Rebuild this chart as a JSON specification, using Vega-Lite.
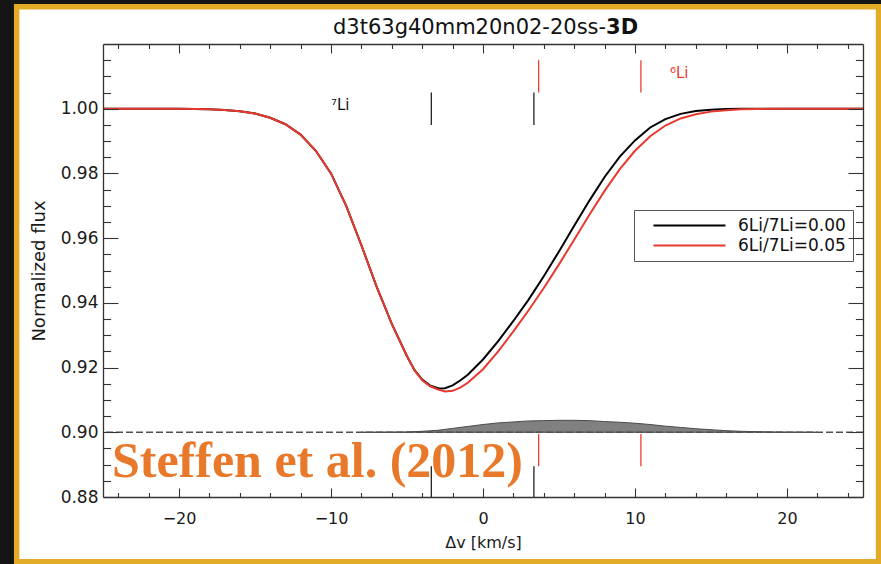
{
  "$schema": "https://vega.github.io/schema/vega-lite/v6.json",
  "autosize": {"type": "none"},
  "padding": {"left": 103, "top": 44, "right": 18, "bottom": 67},
  "width": 760,
  "height": 453,
  "background": "#141414",
  "datasets": {
    "curves": [
      {"v": -25, "flux": 1.0, "ratio": "6Li/7Li=0.00"},
      {"v": -22, "flux": 1.0, "ratio": "6Li/7Li=0.00"},
      {"v": -20, "flux": 1.0, "ratio": "6Li/7Li=0.00"},
      {"v": -19, "flux": 0.9999, "ratio": "6Li/7Li=0.00"},
      {"v": -18, "flux": 0.9998, "ratio": "6Li/7Li=0.00"},
      {"v": -17, "flux": 0.9996, "ratio": "6Li/7Li=0.00"},
      {"v": -16, "flux": 0.9992, "ratio": "6Li/7Li=0.00"},
      {"v": -15, "flux": 0.9985, "ratio": "6Li/7Li=0.00"},
      {"v": -14, "flux": 0.9972, "ratio": "6Li/7Li=0.00"},
      {"v": -13, "flux": 0.9952, "ratio": "6Li/7Li=0.00"},
      {"v": -12, "flux": 0.992, "ratio": "6Li/7Li=0.00"},
      {"v": -11, "flux": 0.987, "ratio": "6Li/7Li=0.00"},
      {"v": -10, "flux": 0.98, "ratio": "6Li/7Li=0.00"},
      {"v": -9, "flux": 0.97, "ratio": "6Li/7Li=0.00"},
      {"v": -8, "flux": 0.9578, "ratio": "6Li/7Li=0.00"},
      {"v": -7, "flux": 0.945, "ratio": "6Li/7Li=0.00"},
      {"v": -6, "flux": 0.9335, "ratio": "6Li/7Li=0.00"},
      {"v": -5, "flux": 0.9235, "ratio": "6Li/7Li=0.00"},
      {"v": -4.5, "flux": 0.9192, "ratio": "6Li/7Li=0.00"},
      {"v": -4, "flux": 0.9163, "ratio": "6Li/7Li=0.00"},
      {"v": -3.5, "flux": 0.9145, "ratio": "6Li/7Li=0.00"},
      {"v": -3, "flux": 0.9137, "ratio": "6Li/7Li=0.00"},
      {"v": -2.8, "flux": 0.9135, "ratio": "6Li/7Li=0.00"},
      {"v": -2.5, "flux": 0.9136, "ratio": "6Li/7Li=0.00"},
      {"v": -2, "flux": 0.9145, "ratio": "6Li/7Li=0.00"},
      {"v": -1.5, "flux": 0.916, "ratio": "6Li/7Li=0.00"},
      {"v": -1, "flux": 0.9178, "ratio": "6Li/7Li=0.00"},
      {"v": 0, "flux": 0.9225, "ratio": "6Li/7Li=0.00"},
      {"v": 1, "flux": 0.9282, "ratio": "6Li/7Li=0.00"},
      {"v": 2, "flux": 0.9344, "ratio": "6Li/7Li=0.00"},
      {"v": 3, "flux": 0.941, "ratio": "6Li/7Li=0.00"},
      {"v": 4, "flux": 0.9482, "ratio": "6Li/7Li=0.00"},
      {"v": 5, "flux": 0.9559, "ratio": "6Li/7Li=0.00"},
      {"v": 6, "flux": 0.9638, "ratio": "6Li/7Li=0.00"},
      {"v": 7, "flux": 0.9716, "ratio": "6Li/7Li=0.00"},
      {"v": 8, "flux": 0.9789, "ratio": "6Li/7Li=0.00"},
      {"v": 9, "flux": 0.9852, "ratio": "6Li/7Li=0.00"},
      {"v": 10, "flux": 0.9902, "ratio": "6Li/7Li=0.00"},
      {"v": 11, "flux": 0.9942, "ratio": "6Li/7Li=0.00"},
      {"v": 12, "flux": 0.9968, "ratio": "6Li/7Li=0.00"},
      {"v": 13, "flux": 0.9984, "ratio": "6Li/7Li=0.00"},
      {"v": 14, "flux": 0.9993, "ratio": "6Li/7Li=0.00"},
      {"v": 15, "flux": 0.9997, "ratio": "6Li/7Li=0.00"},
      {"v": 16, "flux": 0.9999, "ratio": "6Li/7Li=0.00"},
      {"v": 17, "flux": 1.0, "ratio": "6Li/7Li=0.00"},
      {"v": 20, "flux": 1.0, "ratio": "6Li/7Li=0.00"},
      {"v": 25, "flux": 1.0, "ratio": "6Li/7Li=0.00"},
      {"v": -25, "flux": 1.0, "ratio": "6Li/7Li=0.05"},
      {"v": -22, "flux": 1.0, "ratio": "6Li/7Li=0.05"},
      {"v": -20, "flux": 1.0, "ratio": "6Li/7Li=0.05"},
      {"v": -19, "flux": 0.9999, "ratio": "6Li/7Li=0.05"},
      {"v": -18, "flux": 0.9998, "ratio": "6Li/7Li=0.05"},
      {"v": -17, "flux": 0.9996, "ratio": "6Li/7Li=0.05"},
      {"v": -16, "flux": 0.9992, "ratio": "6Li/7Li=0.05"},
      {"v": -15, "flux": 0.9985, "ratio": "6Li/7Li=0.05"},
      {"v": -14, "flux": 0.9972, "ratio": "6Li/7Li=0.05"},
      {"v": -13, "flux": 0.9952, "ratio": "6Li/7Li=0.05"},
      {"v": -12, "flux": 0.992, "ratio": "6Li/7Li=0.05"},
      {"v": -11, "flux": 0.987, "ratio": "6Li/7Li=0.05"},
      {"v": -10, "flux": 0.98, "ratio": "6Li/7Li=0.05"},
      {"v": -9, "flux": 0.97, "ratio": "6Li/7Li=0.05"},
      {"v": -8, "flux": 0.9578, "ratio": "6Li/7Li=0.05"},
      {"v": -7, "flux": 0.945, "ratio": "6Li/7Li=0.05"},
      {"v": -6, "flux": 0.9335, "ratio": "6Li/7Li=0.05"},
      {"v": -5, "flux": 0.9235, "ratio": "6Li/7Li=0.05"},
      {"v": -4.5, "flux": 0.9191, "ratio": "6Li/7Li=0.05"},
      {"v": -4, "flux": 0.9161, "ratio": "6Li/7Li=0.05"},
      {"v": -3.5, "flux": 0.9143, "ratio": "6Li/7Li=0.05"},
      {"v": -3, "flux": 0.9133, "ratio": "6Li/7Li=0.05"},
      {"v": -2.5, "flux": 0.9126, "ratio": "6Li/7Li=0.05"},
      {"v": -2, "flux": 0.9128, "ratio": "6Li/7Li=0.05"},
      {"v": -1.5, "flux": 0.9138, "ratio": "6Li/7Li=0.05"},
      {"v": -1, "flux": 0.9153, "ratio": "6Li/7Li=0.05"},
      {"v": 0, "flux": 0.9195, "ratio": "6Li/7Li=0.05"},
      {"v": 1, "flux": 0.925, "ratio": "6Li/7Li=0.05"},
      {"v": 2, "flux": 0.9312, "ratio": "6Li/7Li=0.05"},
      {"v": 3, "flux": 0.9377, "ratio": "6Li/7Li=0.05"},
      {"v": 4, "flux": 0.9446, "ratio": "6Li/7Li=0.05"},
      {"v": 5, "flux": 0.9519, "ratio": "6Li/7Li=0.05"},
      {"v": 6, "flux": 0.9595, "ratio": "6Li/7Li=0.05"},
      {"v": 7, "flux": 0.9672, "ratio": "6Li/7Li=0.05"},
      {"v": 8, "flux": 0.9746, "ratio": "6Li/7Li=0.05"},
      {"v": 9, "flux": 0.9813, "ratio": "6Li/7Li=0.05"},
      {"v": 10, "flux": 0.987, "ratio": "6Li/7Li=0.05"},
      {"v": 11, "flux": 0.9915, "ratio": "6Li/7Li=0.05"},
      {"v": 12, "flux": 0.9948, "ratio": "6Li/7Li=0.05"},
      {"v": 13, "flux": 0.997, "ratio": "6Li/7Li=0.05"},
      {"v": 14, "flux": 0.9983, "ratio": "6Li/7Li=0.05"},
      {"v": 15, "flux": 0.9991, "ratio": "6Li/7Li=0.05"},
      {"v": 16, "flux": 0.9995, "ratio": "6Li/7Li=0.05"},
      {"v": 17, "flux": 0.9998, "ratio": "6Li/7Li=0.05"},
      {"v": 18, "flux": 0.9999, "ratio": "6Li/7Li=0.05"},
      {"v": 19, "flux": 1.0, "ratio": "6Li/7Li=0.05"},
      {"v": 22, "flux": 1.0, "ratio": "6Li/7Li=0.05"},
      {"v": 25, "flux": 1.0, "ratio": "6Li/7Li=0.05"}
    ],
    "diff": [
      {"v": -8, "top": 0.9},
      {"v": -6, "top": 0.90005},
      {"v": -5, "top": 0.9001},
      {"v": -4, "top": 0.9003},
      {"v": -3, "top": 0.9006},
      {"v": -2, "top": 0.9012},
      {"v": -1, "top": 0.9018},
      {"v": 0, "top": 0.9024},
      {"v": 1, "top": 0.9029},
      {"v": 2, "top": 0.9032},
      {"v": 3, "top": 0.9035},
      {"v": 4, "top": 0.9036},
      {"v": 5, "top": 0.9037},
      {"v": 6, "top": 0.9037},
      {"v": 7, "top": 0.9036},
      {"v": 8, "top": 0.9033},
      {"v": 9, "top": 0.9031},
      {"v": 10, "top": 0.9028},
      {"v": 11, "top": 0.9024},
      {"v": 12, "top": 0.9019},
      {"v": 13, "top": 0.9015},
      {"v": 14, "top": 0.9011},
      {"v": 15, "top": 0.9008},
      {"v": 16, "top": 0.9005},
      {"v": 17, "top": 0.9003},
      {"v": 18, "top": 0.9002},
      {"v": 19, "top": 0.9001},
      {"v": 20, "top": 0.90005},
      {"v": 22, "top": 0.9}
    ],
    "li7": [
      {"v": -3.4, "lo": 0.995, "hi": 1.005},
      {"v": 3.35, "lo": 0.995, "hi": 1.005},
      {"v": -3.4, "lo": 0.88, "hi": 0.8895},
      {"v": 3.35, "lo": 0.88, "hi": 0.8895}
    ],
    "li6": [
      {"v": 3.66, "lo": 1.005, "hi": 1.015},
      {"v": 10.39, "lo": 1.005, "hi": 1.015},
      {"v": 3.66, "lo": 0.8895, "hi": 0.8995},
      {"v": 10.39, "lo": 0.8895, "hi": 0.8995}
    ]
  },
  "resolve": {"axis": {"x": "independent", "y": "independent"}},
  "layer": [
    {
      "data": {"values": [{}]},
      "mark": {"type": "rect", "fill": "#ffffff", "stroke": "#e3ac28", "strokeWidth": 5.4, "clip": false},
      "encoding": {
        "x": {"datum": -30.68, "type": "quantitative", "axis": null, "scale": {"domain": [-25, 25], "nice": false, "zero": false}},
        "x2": {"datum": 26.02},
        "y": {"datum": 1.0315, "type": "quantitative", "axis": null, "scale": {"domain": [0.88, 1.02], "nice": false, "zero": false}},
        "y2": {"datum": 0.86}
      }
    },
    {
      "data": {"name": "diff"},
      "mark": {"type": "area", "fill": "#808080", "stroke": "#4a4a4a", "strokeWidth": 1},
      "encoding": {
        "x": {"field": "v", "type": "quantitative",
          "axis": {"zindex": 2, "orient": "bottom", "values": [-24, -22, -18, -16, -14, -12, -8, -6, -4, -2, 2, 4, 6, 8, 12, 14, 16, 18, 22, 24], "tickSize": -4.5, "labels": false, "domain": false, "title": null}},
        "y": {"field": "top", "type": "quantitative",
          "axis": {"zindex": 2, "orient": "left", "values": [0.885, 0.895, 0.905, 0.915, 0.925, 0.935, 0.945, 0.955, 0.965, 0.975, 0.985, 0.995, 1.005, 1.015, 0.89, 0.91, 0.93, 0.95, 0.97, 0.99, 1.01], "tickSize": -7.6, "labels": false, "domain": false, "title": null}},
        "y2": {"datum": 0.9}
      }
    },
    {
      "data": {"values": [{}]},
      "mark": {"type": "rule", "color": "#505050", "strokeWidth": 1.6, "strokeDash": [7, 3]},
      "encoding": {
        "y": {"datum": 0.9, "type": "quantitative", "axis": null}
      }
    },
    {
      "data": {"name": "curves"},
      "mark": {"type": "line", "strokeWidth": 2},
      "encoding": {
        "x": {"field": "v", "type": "quantitative",
          "axis": {"zindex": 2, "orient": "bottom", "values": [-20, -10, 0, 10, 20], "tickSize": -9, "labelPadding": 22, "labelFontSize": 16, "domain": true, "domainWidth": 1.3, "title": "Δv [km/s]", "titleFontSize": 16, "titlePadding": 8}},
        "y": {"field": "flux", "type": "quantitative",
          "axis": {"zindex": 2, "orient": "left", "values": [0.88, 0.9, 0.92, 0.94, 0.96, 0.98, 1.0], "format": ".2f", "tickSize": -15, "labelPadding": 20, "labelFontSize": 17, "domain": true, "domainWidth": 1.3, "title": "Normalized flux", "titleFontSize": 18, "titlePadding": 12}},
        "color": {"field": "ratio", "type": "nominal",
          "scale": {"domain": ["6Li/7Li=0.00", "6Li/7Li=0.05"], "range": ["#000000", "#e8392f"]},
          "legend": {"title": null, "orient": "none", "legendX": 531, "legendY": 166, "symbolType": "M-8,0H8", "symbolSize": 81, "symbolStrokeWidth": 2, "symbolOffset": 40, "labelOffset": 40, "labelFont": "DejaVu Sans", "labelFontSize": 17, "labelColor": "#111111", "padding": 7, "rowPadding": 2, "strokeColor": "#555555", "fillColor": "#ffffff"}}
      }
    },
    {
      "data": {"name": "li7"},
      "mark": {"type": "rule", "color": "#222222", "strokeWidth": 1.3},
      "encoding": {
        "x": {"field": "v", "type": "quantitative",
          "axis": {"zindex": 2, "orient": "top", "values": [-20, -10, 0, 10, 20], "tickSize": -9, "labels": false, "domain": true, "domainWidth": 1.3, "title": null}},
        "y": {"field": "lo", "type": "quantitative",
          "axis": {"zindex": 2, "orient": "right", "values": [0.88, 0.9, 0.92, 0.94, 0.96, 0.98, 1.0], "tickSize": -15, "labels": false, "domain": true, "domainWidth": 1.3, "title": null}},
        "y2": {"field": "hi"}
      }
    },
    {
      "data": {"name": "li6"},
      "mark": {"type": "rule", "color": "#ee3b30", "strokeWidth": 1.3},
      "encoding": {
        "x": {"field": "v", "type": "quantitative",
          "axis": {"zindex": 2, "orient": "top", "values": [-24, -22, -18, -16, -14, -12, -8, -6, -4, -2, 2, 4, 6, 8, 12, 14, 16, 18, 22, 24], "tickSize": -4.5, "labels": false, "domain": false, "title": null}},
        "y": {"field": "lo", "type": "quantitative",
          "axis": {"zindex": 2, "orient": "right", "values": [0.885, 0.895, 0.905, 0.915, 0.925, 0.935, 0.945, 0.955, 0.965, 0.975, 0.985, 0.995, 1.005, 1.015, 0.89, 0.91, 0.93, 0.95, 0.97, 0.99, 1.01], "tickSize": -7.6, "labels": false, "domain": false, "title": null}},
        "y2": {"field": "hi"}
      }
    },
    {
      "data": {"values": [{}]},
      "mark": {"type": "text", "text": "⁷Li", "font": "DejaVu Sans", "fontSize": 15, "color": "#111111", "align": "left", "baseline": "alphabetic"},
      "encoding": {
        "x": {"datum": -10.0, "type": "quantitative", "axis": null},
        "y": {"datum": 0.9996, "type": "quantitative", "axis": null}
      }
    },
    {
      "data": {"values": [{}]},
      "mark": {"type": "text", "text": "⁶Li", "font": "DejaVu Sans", "fontSize": 15, "color": "#ee3b30", "align": "left", "baseline": "alphabetic"},
      "encoding": {
        "x": {"datum": 12.3, "type": "quantitative", "axis": null},
        "y": {"datum": 1.0095, "type": "quantitative", "axis": null}
      }
    },
    {
      "data": {"values": [{}]},
      "mark": {"type": "text", "text": "d3t63g40mm20n02-20ss-", "font": "DejaVu Sans", "fontSize": 21, "color": "#111111", "align": "right", "baseline": "alphabetic", "clip": false},
      "encoding": {
        "x": {"datum": 8.1, "type": "quantitative", "axis": null},
        "y": {"datum": 1.0231, "type": "quantitative", "axis": null}
      }
    },
    {
      "data": {"values": [{}]},
      "mark": {"type": "text", "text": "3D", "font": "DejaVu Sans", "fontSize": 21, "fontWeight": "bold", "color": "#111111", "align": "left", "baseline": "alphabetic", "clip": false},
      "encoding": {
        "x": {"datum": 8.1, "type": "quantitative", "axis": null},
        "y": {"datum": 1.0231, "type": "quantitative", "axis": null}
      }
    },
    {
      "data": {"values": [{}]},
      "mark": {"type": "text", "text": "Steffen et al. (2012)", "font": "Liberation Serif", "fontSize": 50, "fontWeight": "bold", "color": "#e8792b", "align": "left", "baseline": "alphabetic"},
      "encoding": {
        "x": {"datum": -24.41, "type": "quantitative", "axis": null},
        "y": {"datum": 0.8862, "type": "quantitative", "axis": null}
      }
    }
  ],
  "config": {
    "view": {"stroke": null},
    "axis": {"grid": false, "domainColor": "#333333", "tickColor": "#333333", "tickWidth": 1.1, "labelFont": "DejaVu Sans", "titleFont": "DejaVu Sans", "labelColor": "#1a1a1a", "titleColor": "#1a1a1a", "titleFontWeight": "normal"}
  }
}
